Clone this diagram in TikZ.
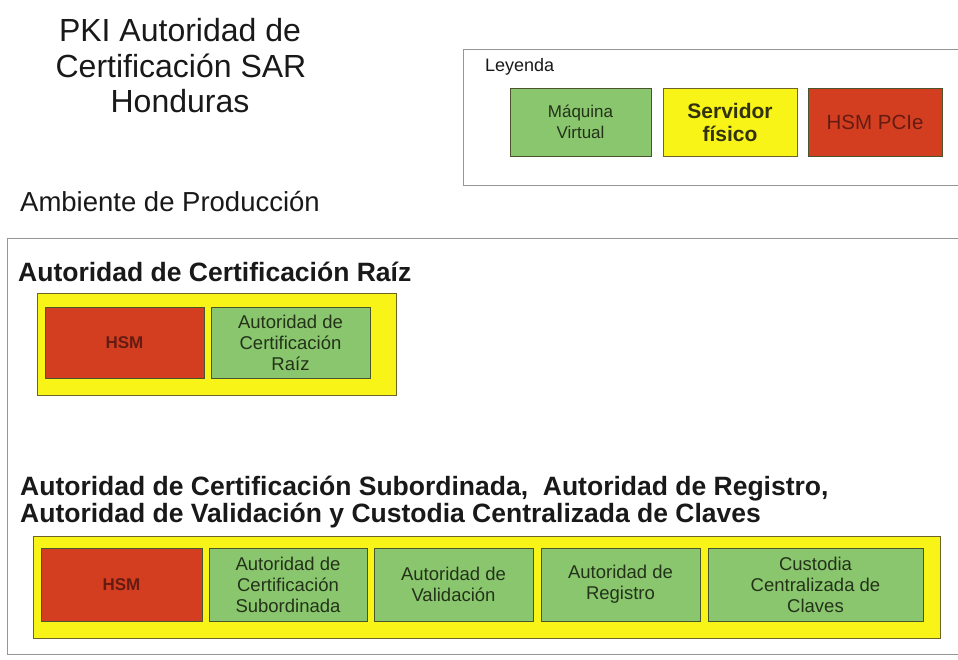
\documentclass[tikz,border=0pt]{standalone}
\usepackage{fontspec}
\setmainfont{Liberation Sans}
\definecolor{gfill}{RGB}{138,198,110}
\definecolor{gdraw}{RGB}{75,85,45}
\definecolor{yfill}{RGB}{248,244,24}
\definecolor{ydraw}{RGB}{110,100,40}
\definecolor{rfill}{RGB}{212,62,32}
\definecolor{rtext}{RGB}{100,28,18}
\definecolor{gtext}{RGB}{35,50,25}
\definecolor{ytext}{RGB}{50,50,15}
\definecolor{framec}{RGB}{150,150,150}
\definecolor{txt}{RGB}{25,25,25}
\begin{document}
\begin{tikzpicture}[x=1pt,y=-1pt,
  basebox/.style={draw=gdraw,line width=0.8pt,inner sep=0pt,outer sep=0pt,align=center},
  gbox/.style={basebox,fill=gfill,text=gtext,font=\fontsize{18.5}{21}\selectfont},
  ybox/.style={basebox,draw=ydraw,fill=yfill},
  rbox/.style={basebox,fill=rfill,text=rtext,font=\fontsize{17}{21}\selectfont\bfseries},
  framebox/.style={draw=framec,line width=0.9pt,inner sep=0pt,outer sep=0pt},
  titletext/.style={anchor=base,inner sep=0pt,text=txt,font=\fontsize{32}{35}\selectfont},
  headtext/.style={anchor=base west,inner sep=0pt,text=txt,font=\fontsize{26.5}{27}\selectfont\bfseries},
]
\useasboundingbox (0,0) rectangle (958,660);
\fill[white] (0,0) rectangle (958,660);

% title
\node[titletext] (t1) at (180,42) {PKI Autoridad de};
\node[titletext] (t2) at (181,78) {Certificación SAR};
\node[titletext] (t3) at (180,113) {Honduras};

% legend
\node[framebox,minimum width=502pt,minimum height=136pt] (legend) at (714,117) {};
\node[anchor=base west,inner sep=0pt,text=txt,font=\fontsize{18}{20}\selectfont] (leyenda) at (485,72) {Leyenda};
\node[gbox,minimum width=141pt,minimum height=68pt,font=\fontsize{17}{21}\selectfont] (lg) at (580.5,122) {Máquina\\Virtual};
\node[ybox,minimum width=134pt,minimum height=68pt,text=ytext,font=\fontsize{21}{23}\selectfont\bfseries] (ly) at (730,122) {Servidor\\físico};
\node[rbox,minimum width=134pt,minimum height=68pt,font=\fontsize{20.5}{22}\selectfont] (lr) at (875,122) {HSM PCIe};

% environment
\node[anchor=base west,inner sep=0pt,text=txt,font=\fontsize{27.5}{30}\selectfont] (amb) at (20,212) {Ambiente de Producción};
\node[framebox,minimum width=958pt,minimum height=416pt] (main) at (486,446) {};

% root CA
\node[headtext] (h1) at (18,282) {Autoridad de Certificación Raíz};
\node[ybox,minimum width=359pt,minimum height=102pt] (rootsrv) at (216.5,344) {};
\node[rbox,minimum width=159pt,minimum height=71.5pt] (rhsm) at (124.5,342.75) {HSM};
\node[gbox,minimum width=159pt,minimum height=71.5pt] (rca) at (290.5,342.75) {Autoridad de\\Certificación\\Raíz};

% subordinate
\node[headtext] (h2a) at (20,495) {Autoridad de Certificación Subordinada,\ \ Autoridad de Registro,};
\node[headtext] (h2b) at (20,522) {Autoridad de Validación y Custodia Centralizada de Claves};
\node[ybox,minimum width=907pt,minimum height=102pt] (subsrv) at (486.5,587) {};
\node[rbox,minimum width=161pt,minimum height=73pt] (shsm) at (121.5,584.5) {HSM};
\node[gbox,minimum width=158pt,minimum height=73pt] (sca) at (288,584.5) {Autoridad de\\Certificación\\Subordinada};
\node[gbox,minimum width=159pt,minimum height=73pt] (sva) at (453.5,584.5) {Autoridad de\\Validación};
\node[gbox,minimum width=159pt,minimum height=73pt] (sra) at (620.5,584.5) {Autoridad de\\Registro};
\node[gbox,minimum width=215pt,minimum height=73pt] (scc) at (815.5,584.5) {Custodia\\Centralizada de\\Claves};
\end{tikzpicture}
\end{document}
